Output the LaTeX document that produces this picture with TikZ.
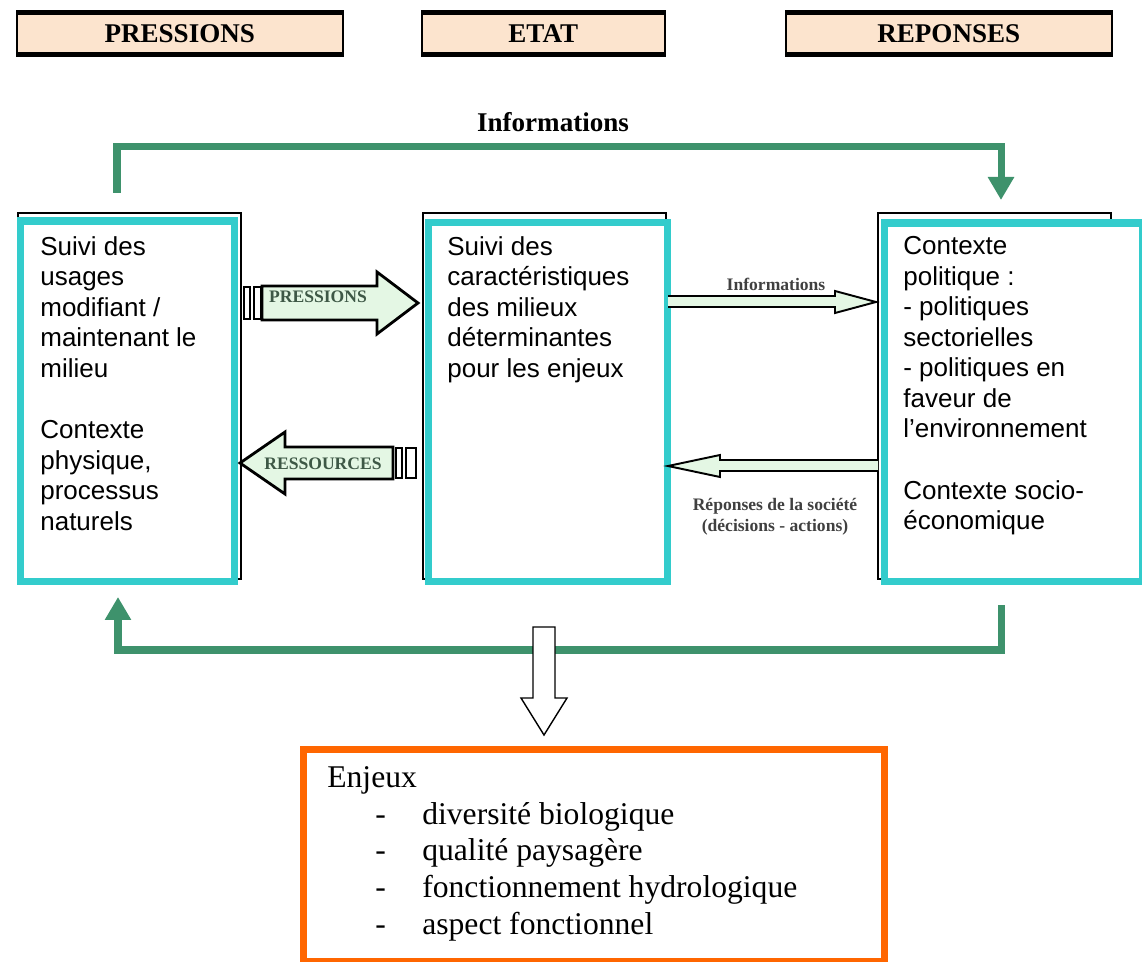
\documentclass[tikz,border=0pt]{standalone}
\usepackage{fontspec}
\setmainfont{Liberation Serif}
\newfontfamily\arial{Liberation Sans}
\usepackage{tikz}
\usetikzlibrary{arrows.meta, positioning, calc}
\definecolor{cyanbord}{RGB}{51,204,204}
\definecolor{vertfleche}{RGB}{62,146,108}
\definecolor{orangebord}{RGB}{255,102,0}
\definecolor{peche}{RGB}{252,228,206}
\definecolor{vertpale}{RGB}{228,247,228}
\definecolor{textevert}{RGB}{62,88,70}
\newcommand{\tiret}[1]{\hspace*{0.96cm}\makebox[0.94cm][l]{-}#1}
\tikzset{
    entete/.style={
        rectangle,
        draw=black,
        line width=0.9pt,
        fill=peche,
        anchor=north west,
        minimum height=0.8cm,
        font=\fontsize{15.4}{18}\selectfont\bfseries
    },
    cadre/.style={
        rectangle,
        draw=black,
        line width=1.1pt,
        anchor=north west,
        minimum height=7.32cm
    },
    bloc/.style={
        rectangle,
        draw=cyanbord,
        line width=4pt,
        fill=white,
        anchor=north west
    },
    texte/.style={
        anchor=north west,
        inner sep=0pt,
        align=left,
        font=\arial\fontsize{14.8}{17.4}\selectfont
    },
    retour/.style={
        draw=vertfleche,
        line width=4pt,
        -{Triangle[length=0.46cm,width=0.5cm]}
    },
    grosse/.style={
        draw=black,
        line width=1.6pt,
        fill=vertpale,
        line join=miter
    },
    mince/.style={
        draw=black,
        line width=1.1pt,
        fill=vertpale
    },
    etiq/.style={
        font=\fontsize{10}{12}\selectfont\bfseries,
        text=black!75,
        align=center,
        inner sep=1pt
    },
    creuse/.style={
        draw=black,
        line width=0.8pt,
        fill=white
    },
    enjeux/.style={
        rectangle,
        draw=orangebord,
        line width=4pt,
        anchor=north west
    }
}
\begin{document}
\begin{tikzpicture}[x=0.02cm, y=-0.02cm]
\useasboundingbox (0,0) rectangle (1142,962);

% Headers
\node[entete, minimum width=6.52cm] (h_press) at (16,12.5) {PRESSIONS};
\node[entete, minimum width=4.86cm] (h_etat) at (421,12.5) {ETAT};
\node[entete, minimum width=6.52cm] (h_rep) at (785,12.5) {REPONSES};
\foreach \h in {h_press,h_etat,h_rep}{
    \draw[line width=2.8pt] (\h.north west) -- (\h.north east);
    \draw[line width=2.8pt] (\h.south west) -- (\h.south east);
}

% Information loop (top)
\coordinate (info_dep) at (117,193);
\coordinate (info_arr) at (1001,200);
\coordinate (info_haut) at (0,146.5);
\draw[retour] (info_dep) -- (info_dep |- info_haut) -| (info_arr);
\node[font=\fontsize{15.4}{18}\selectfont\bfseries] (informations) at (553,122) {Informations};

% Old frames
\node[cadre, minimum width=4.46cm] (c_press) at (17,212) {};
\node[cadre, minimum width=4.86cm] (c_etat) at (422,212) {};
\node[cadre, minimum width=4.66cm] (c_rep) at (877,212) {};

% Blocks
\node[bloc, minimum width=4.3cm, minimum height=7.22cm] (usages) at (16.5,217.5) {};
\node[bloc, minimum width=4.79cm, minimum height=7.19cm] (milieux) at (424.5,219) {};
\node[bloc, minimum width=5.17cm, minimum height=7.18cm] (contexte) at (880.5,219.5) {};

\node[texte] (t_usages) at (40,236) {Suivi des\\usages\\modifiant /\\maintenant le\\milieu\\[17.4pt]Contexte\\physique,\\processus\\naturels};
\node[texte] (t_milieux) at (447,236) {Suivi des\\caractéristiques\\des milieux\\déterminantes\\pour les enjeux};
\node[texte] (t_contexte) at (903,236) {Contexte\\politique :\\- politiques\\sectorielles\\- politiques en\\faveur de\\l’environnement\\[17.4pt]Contexte socio-\\économique};

% Pressions
\draw[grosse] (262,286) -- (377,286) -- (377,272) -- (418,303) -- (377,334) -- (377,320) -- (262,320) -- cycle;
\draw[grosse, fill=white] (244,287) rectangle (250,319);
\draw[grosse, fill=white] (254,287) rectangle (261,319);
\node[etiq, text=textevert] (l_press) at (318,297) {PRESSIONS};

% Ressources
\draw[grosse] (393,447) -- (285,447) -- (285,432) -- (240,463) -- (285,494) -- (285,479) -- (393,479) -- cycle;
\draw[grosse, fill=white] (396,448) rectangle (402,478);
\draw[grosse, fill=white] (406,448) rectangle (416,478);
\node[etiq, text=textevert] (l_ress) at (323,464) {RESSOURCES};

% Informations / reponses
\draw[mince] (668,296) -- (835,296) -- (835,291) -- (876,302) -- (835,313) -- (835,307) -- (668,307);
\node[etiq] (l_info) at (776,284) {Informations};
\draw[mince] (878,460) -- (720,460) -- (720,455) -- (668,466) -- (720,477) -- (720,471) -- (878,471);
\node[etiq] (l_rep) at (775,517) {Réponses de la société\\(décisions - actions)};

% Response loop (bottom)
\coordinate (rep_dep) at (1001,605);
\coordinate (rep_arr) at (118,597);
\coordinate (rep_bas) at (0,650);
\draw[retour] (rep_dep) -- (rep_dep |- rep_bas) -| (rep_arr);

% Down arrow
\draw[creuse] (533,627) -- (555,627) -- (555,698) -- (567,698) -- (544,735) -- (521,698) -- (533,698) -- cycle;

% Enjeux
\node[enjeux, minimum width=11.62cm, minimum height=4.24cm] (enjeux_box) at (300,746) {};
\node[anchor=north west, inner sep=0pt, align=left, font=\fontsize{18}{20.9}\selectfont] (enjeux_txt) at (327,766) {Enjeux\\
\tiret{diversité biologique}\\
\tiret{qualité paysagère}\\
\tiret{fonctionnement hydrologique}\\
\tiret{aspect fonctionnel}};

\end{tikzpicture}
\end{document}
